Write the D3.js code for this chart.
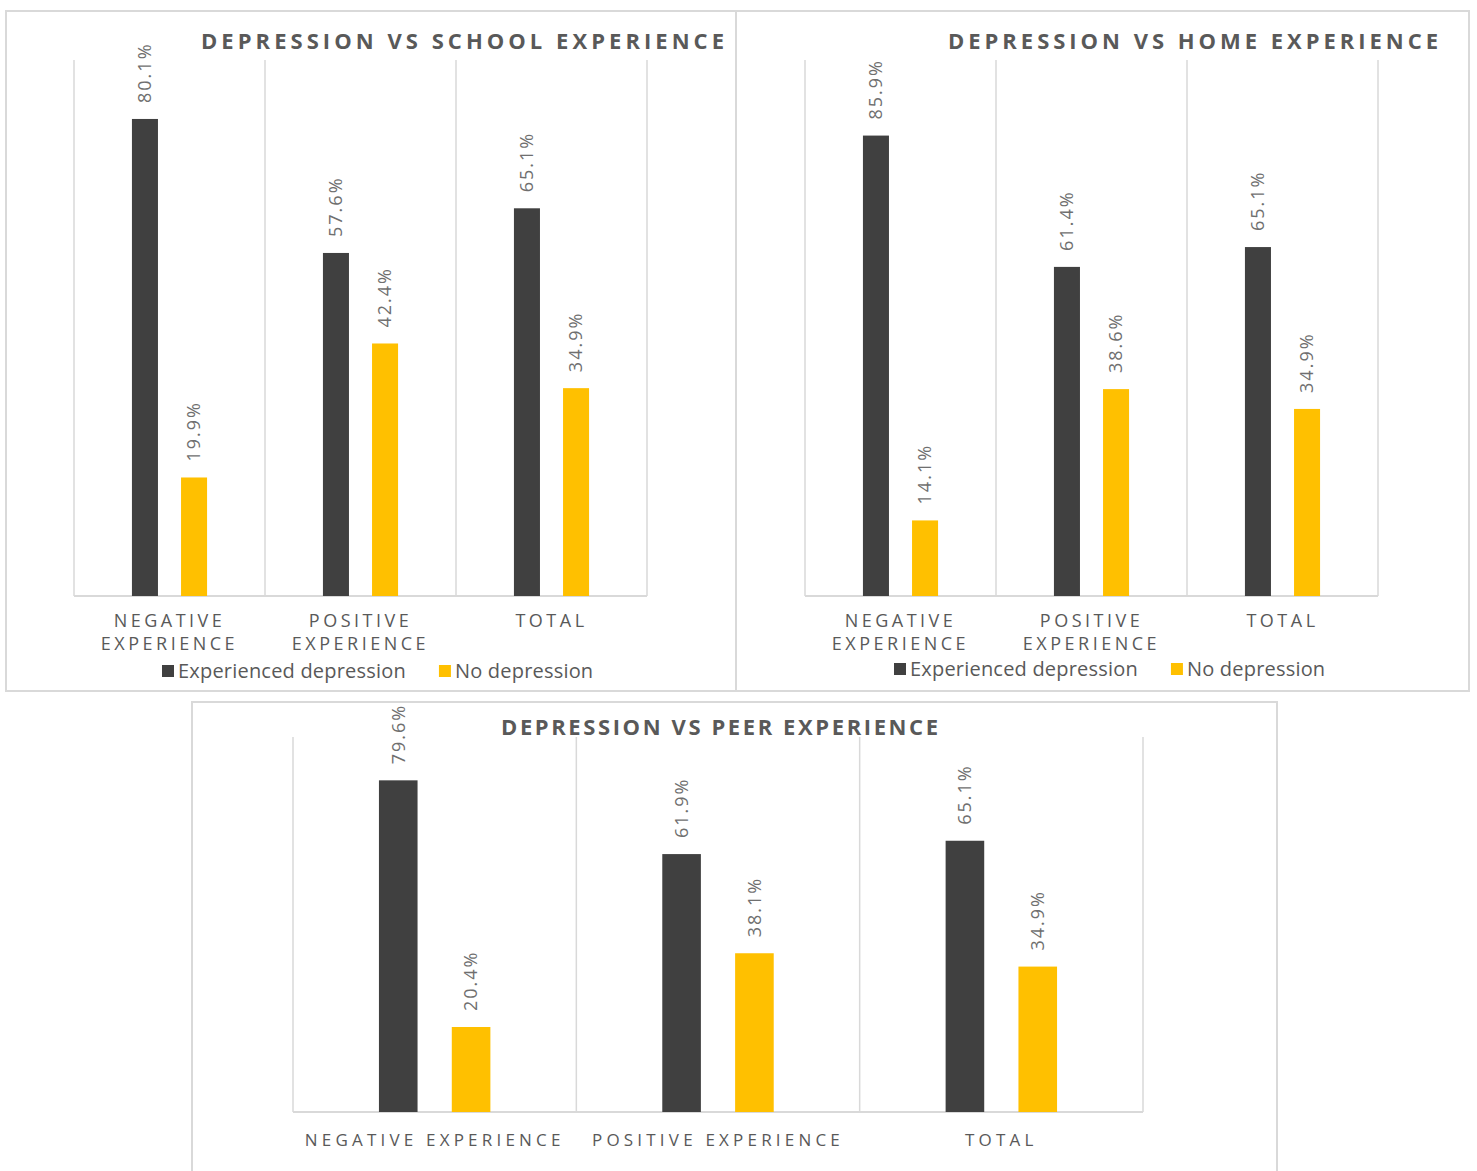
<!DOCTYPE html>
<html>
<head>
<meta charset="utf-8">
<script src="https://cdn.jsdelivr.net/npm/d3@7"></script>
<style>
  html, body { margin: 0; padding: 0; background: #fff; }
  svg { display: block; }
  text { font-family: "Open Sans", "DejaVu Sans", sans-serif; }
</style>
</head>
<body>
<svg id="chart" width="1477" height="1171"></svg>
<script>
// Categories and series shared by all three charts
const categories = ["NEGATIVE EXPERIENCE", "POSITIVE EXPERIENCE", "TOTAL"];
const seriesNames = ["Experienced depression", "No depression"];
const seriesColors = ["#404040", "#FFC000"];

// Percentages per setting
const schoolDepressed = [80.1, 57.6, 65.1];
const schoolNone      = [19.9, 42.4, 34.9];
const homeDepressed   = [85.9, 61.4, 65.1];
const homeNone        = [14.1, 38.6, 34.9];
const peerDepressed   = [79.6, 61.9, 65.1];
const peerNone        = [20.4, 38.1, 34.9];

// Value axis maxima
const schoolMax = 90;
const homeMax = 100;
const peerMax = 90;

const titles = [
  "DEPRESSION VS SCHOOL EXPERIENCE",
  "DEPRESSION VS HOME EXPERIENCE",
  "DEPRESSION VS PEER EXPERIENCE"
];

const svg = d3.select("#chart");
const textGray = "#595959";
const labelGray = "#6f6f6f";
const gridGray = "#D9D9D9";

function drawPanel(opt) {
  const g = svg.append("g");
  // frame
  g.append("rect")
    .attr("x", opt.frame[0]).attr("y", opt.frame[1])
    .attr("width", opt.frame[2]).attr("height", opt.frame[3])
    .attr("fill", "#fff").attr("stroke", gridGray).attr("stroke-width", 2);

  const x0 = d3.scaleBand().domain(categories).range([opt.left, opt.right]);
  const x1 = d3.scaleBand().domain(seriesNames)
    .range([0, x0.bandwidth()]).paddingInner(0.47).paddingOuter(1.18);
  const y = d3.scaleLinear().domain([0, opt.max]).range([opt.bottom, opt.top]);

  // vertical category separators
  const bounds = categories.map(c => x0(c)).concat([opt.right]);
  g.selectAll("line.grid").data(bounds).join("line")
    .attr("x1", d => d).attr("x2", d => d)
    .attr("y1", y(opt.max)).attr("y2", opt.bottom)
    .attr("stroke", gridGray).attr("stroke-width", 1.5);

  // baseline
  g.append("line")
    .attr("x1", opt.left).attr("x2", opt.right)
    .attr("y1", opt.bottom).attr("y2", opt.bottom)
    .attr("stroke", gridGray).attr("stroke-width", 2);

  const rows = [];
  categories.forEach((c, i) => {
    opt.values.forEach((vals, s) => rows.push({ cat: c, series: seriesNames[s], s, v: vals[i] }));
  });

  g.selectAll("rect.bar").data(rows).join("rect")
    .attr("x", d => x0(d.cat) + x1(d.series))
    .attr("width", x1.bandwidth())
    .attr("y", d => y(d.v))
    .attr("height", d => opt.bottom - y(d.v))
    .attr("fill", d => seriesColors[d.s]);

  // rotated value labels
  g.selectAll("text.val").data(rows).join("text")
    .attr("transform", d => `translate(${x0(d.cat) + x1(d.series) + x1.bandwidth() / 2},${y(d.v) - 16}) rotate(-90)`)
    .attr("dy", "0.35em")
    .attr("text-anchor", "start")
    .attr("fill", labelGray)
    .style("font-size", "18px")
    .style("letter-spacing", "2px")
    .text(d => d.v.toFixed(1) + "%");

  // title
  g.append("text")
    .attr("x", opt.titleX).attr("y", opt.titleY)
    .attr("textLength", opt.titleLen).attr("lengthAdjust", "spacing")
    .attr("fill", textGray)
    .style("font-size", "22px").style("font-weight", "bold")
    .text(opt.title);

  // category labels
  categories.forEach(c => {
    const cx = x0(c) + x0.bandwidth() / 2;
    const lines = opt.wrap ? c.split(" ") : [c];
    lines.forEach((ln, k) => {
      g.append("text")
        .attr("x", cx).attr("y", opt.catY + k * 23)
        .attr("text-anchor", "middle")
        .attr("fill", textGray)
        .style("font-size", opt.catSize + "px")
        .style("letter-spacing", opt.catSpacing + "px")
        .text(ln);
    });
  });

  // legend
  if (opt.legend) {
    const lg = g.append("g").attr("transform", `translate(${opt.legend[0]},${opt.legend[1]})`);
    let xpos = 0;
    seriesNames.forEach((name, s) => {
      lg.append("rect").attr("x", xpos).attr("y", -13).attr("width", 12).attr("height", 12)
        .attr("fill", seriesColors[s]);
      const t = lg.append("text").attr("x", xpos + 16).attr("y", 0)
        .attr("fill", textGray).style("font-size", "20px").style("letter-spacing", "0.2px").text(name);
      xpos += t.node().getComputedTextLength() + 16 + 33;
    });
  }
}

drawPanel({
  frame: [6, 11, 730, 680], left: 74, right: 647, top: 60, bottom: 596, max: schoolMax,
  values: [schoolDepressed, schoolNone], title: titles[0], titleX: 201, titleY: 49, titleLen: 523,
  wrap: true, catY: 627, catSize: 18, catSpacing: 3.5, legend: [162, 678]
});

drawPanel({
  frame: [736, 11, 733, 680], left: 805, right: 1378, top: 60, bottom: 596, max: homeMax,
  values: [homeDepressed, homeNone], title: titles[1], titleX: 948, titleY: 49, titleLen: 490,
  wrap: true, catY: 627, catSize: 18, catSpacing: 3.5, legend: [894, 676]
});

drawPanel({
  frame: [192, 702, 1085, 480], left: 293, right: 1143, top: 737, bottom: 1112, max: peerMax,
  values: [peerDepressed, peerNone], title: titles[2], titleX: 501, titleY: 735, titleLen: 437,
  wrap: false, catY: 1146, catSize: 17, catSpacing: 4.2, legend: null
});
</script>
</body>
</html>
